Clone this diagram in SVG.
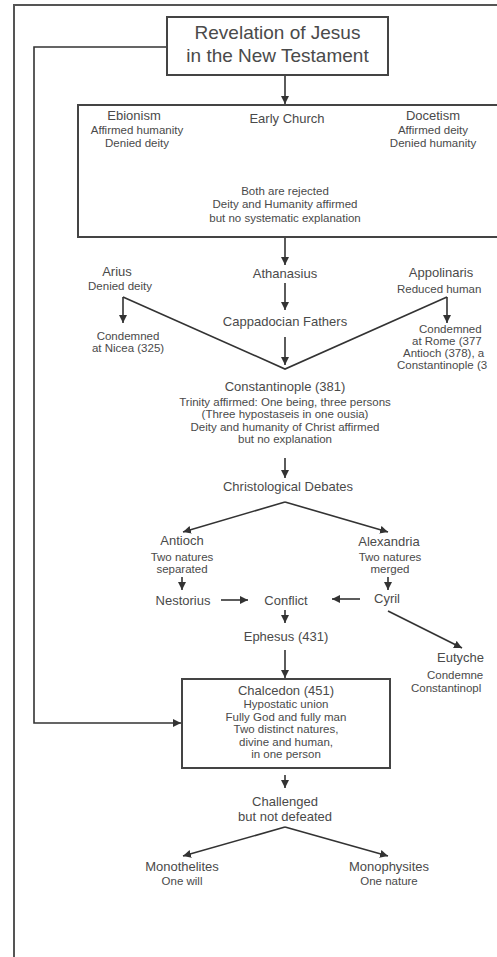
<svg xmlns="http://www.w3.org/2000/svg" width="497" height="957" viewBox="0 0 497 957">
<style>
text{font-family:"Liberation Sans",Arial,sans-serif;fill:#4a4a4a;text-anchor:middle}
.big{font-size:19px}
.m{font-size:13px}
.s{font-size:11.5px}
.st{text-anchor:start}
.box{fill:#fff;stroke:#444;stroke-width:2}
.ln{fill:none;stroke:#333;stroke-width:1.6}
.ar{marker-end:url(#ah)}
</style>
<defs>
<marker id="ah" markerUnits="userSpaceOnUse" markerWidth="9" markerHeight="9" refX="8" refY="4" orient="auto">
<path d="M0,0 L8,4 L0,8 z" fill="#333"/>
</marker>
</defs>
<rect x="14" y="5" width="600" height="1000" fill="none" stroke="#555" stroke-width="2"/>

<g id="connectors">
<path class="ln ar" d="M167,47 H34 V723 H181"/>
<line class="ln ar" x1="285" y1="75" x2="285" y2="104"/>
<polyline class="ln" points="182,127 285,155 380,127"/>
<line class="ln ar" x1="285" y1="155" x2="285" y2="180"/>
<line class="ln ar" x1="285" y1="237" x2="285" y2="265"/>
<line class="ln ar" x1="285" y1="283" x2="285" y2="310"/>
<line class="ln ar" x1="285" y1="337" x2="285" y2="365"/>
<polyline class="ln" points="123,297 285,369 447,297"/>
<line class="ln ar" x1="123" y1="297" x2="123" y2="323"/>
<line class="ln ar" x1="447" y1="297" x2="447" y2="323"/>
<line class="ln ar" x1="285" y1="458" x2="285" y2="478"/>
<line class="ln ar" x1="285" y1="502" x2="183" y2="532"/>
<line class="ln ar" x1="285" y1="502" x2="388" y2="532"/>
<line class="ln ar" x1="182" y1="577" x2="182" y2="590"/>
<line class="ln ar" x1="388" y1="577" x2="388" y2="590"/>
<line class="ln ar" x1="221" y1="600" x2="248" y2="600"/>
<line class="ln ar" x1="360" y1="599" x2="332" y2="599"/>
<line class="ln ar" x1="285" y1="610" x2="285" y2="623"/>
<line class="ln ar" x1="285" y1="650" x2="285" y2="678"/>
<line class="ln ar" x1="388" y1="611" x2="462" y2="648"/>
<line class="ln ar" x1="285" y1="775" x2="285" y2="788"/>
<line class="ln ar" x1="285" y1="827" x2="183" y2="856"/>
<line class="ln ar" x1="285" y1="827" x2="388" y2="856"/>
</g>

<g id="revelation">
<rect class="box" x="167" y="17" width="221" height="58"/>
<text class="big" x="277.5" y="39">Revelation of Jesus</text>
<text class="big" x="277.5" y="62">in the New Testament</text>
</g>

<g id="early-church">
<rect class="box" x="78" y="105" width="460" height="132" fill="none"/>
<text class="m" x="287" y="123">Early Church</text>
</g>
<g id="ebionism">
<text class="m" x="134" y="120">Ebionism</text>
<text class="s" x="137" y="134">Affirmed humanity</text>
<text class="s" x="137" y="147">Denied deity</text>
</g>
<g id="docetism">
<text class="m" x="433" y="120">Docetism</text>
<text class="s" x="433" y="134">Affirmed deity</text>
<text class="s" x="433" y="147">Denied humanity</text>
</g>
<g id="both-rejected">
<text class="s" x="285" y="195">Both are rejected</text>
<text class="s" x="285" y="208">Deity and Humanity affirmed</text>
<text class="s" x="285" y="222">but no systematic explanation</text>
</g>

<g id="arius">
<text class="m" x="117" y="276">Arius</text>
<text class="s" x="120" y="290">Denied deity</text>
</g>
<g id="nicea">
<text class="s" x="128" y="340">Condemned</text>
<text class="s" x="128" y="352">at Nicea (325)</text>
</g>
<g id="athanasius"><text class="m" x="285" y="278">Athanasius</text></g>
<g id="cappadocian"><text class="m" x="285" y="326">Cappadocian Fathers</text></g>
<g id="appolinaris">
<text class="m" x="441" y="277">Appolinaris</text>
<text class="s st" x="397" y="293">Reduced human</text>
</g>
<g id="appolinaris-condemned">
<text class="s st" x="419" y="333">Condemned</text>
<text class="s st" x="412" y="345">at Rome (377</text>
<text class="s st" x="403" y="357">Antioch (378), a</text>
<text class="s st" x="397" y="369">Constantinople (3</text>
</g>

<g id="constantinople">
<text class="m" x="285" y="391">Constantinople (381)</text>
<text class="s" x="285" y="406">Trinity affirmed: One being, three persons</text>
<text class="s" x="285" y="418">(Three hypostaseis in one ousia)</text>
<text class="s" x="285" y="430.5">Deity and humanity of Christ affirmed</text>
<text class="s" x="285" y="443">but no explanation</text>
</g>

<g id="debates"><text class="m" x="288" y="491">Christological Debates</text></g>
<g id="antioch">
<text class="m" x="182" y="545">Antioch</text>
<text class="s" x="182" y="561">Two natures</text>
<text class="s" x="182" y="573">separated</text>
</g>
<g id="alexandria">
<text class="m" x="389" y="546">Alexandria</text>
<text class="s" x="390" y="561">Two natures</text>
<text class="s" x="390" y="573">merged</text>
</g>
<g id="nestorius"><text class="m" x="183" y="605">Nestorius</text></g>
<g id="conflict"><text class="m" x="286" y="605">Conflict</text></g>
<g id="cyril"><text class="m" x="387" y="603">Cyril</text></g>
<g id="ephesus"><text class="m" x="286" y="641">Ephesus (431)</text></g>
<g id="eutyches">
<text class="m st" x="437" y="662">Eutyche</text>
<text class="s st" x="427" y="679">Condemne</text>
<text class="s st" x="411" y="692">Constantinopl</text>
</g>

<g id="chalcedon">
<rect class="box" x="182" y="679" width="208" height="89"/>
<text class="m" x="286" y="695">Chalcedon (451)</text>
<text class="s" x="286" y="708">Hypostatic union</text>
<text class="s" x="286" y="720.5">Fully God and fully man</text>
<text class="s" x="286" y="733">Two distinct natures,</text>
<text class="s" x="286" y="746">divine and human,</text>
<text class="s" x="286" y="758">in one person</text>
</g>

<g id="challenged">
<text class="m" x="285" y="806">Challenged</text>
<text class="m" x="285" y="821">but not defeated</text>
</g>
<g id="monothelites">
<text class="m" x="182" y="871">Monothelites</text>
<text class="s" x="182" y="885">One will</text>
</g>
<g id="monophysites">
<text class="m" x="389" y="871">Monophysites</text>
<text class="s" x="389" y="885">One nature</text>
</g>
</svg>
